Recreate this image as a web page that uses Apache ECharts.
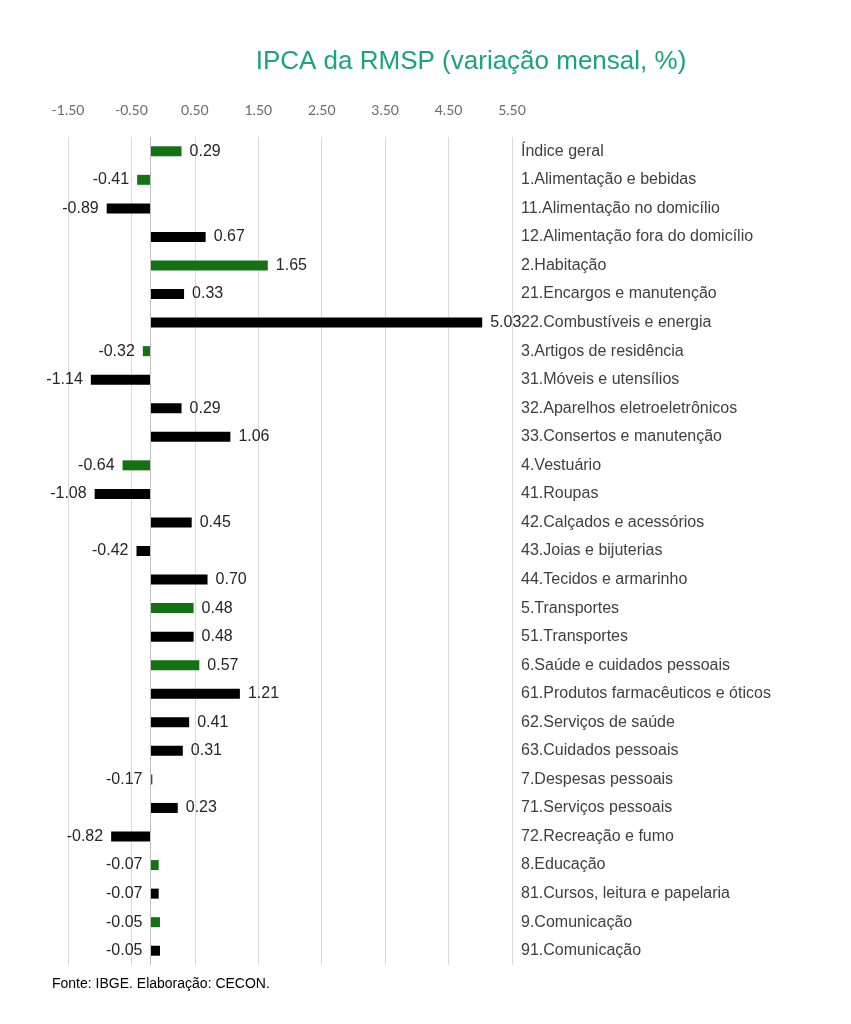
<!DOCTYPE html>
<html><head><meta charset="utf-8">
<script src="https://cdn.jsdelivr.net/npm/echarts@6/dist/echarts.min.js"></script>
<style>body{margin:0;background:#fff}#c{width:851px;height:1024px}</style>
</head><body><div id="c"></div>
<script>
var categories = ['Índice geral','1.Alimentação e bebidas','11.Alimentação no domicílio','12.Alimentação fora do domicílio','2.Habitação','21.Encargos e manutenção','22.Combustíveis e energia','3.Artigos de residência','31.Móveis e utensílios','32.Aparelhos eletroeletrônicos','33.Consertos e manutenção','4.Vestuário','41.Roupas','42.Calçados e acessórios','43.Joias e bijuterias','44.Tecidos e armarinho','5.Transportes','51.Transportes','6.Saúde e cuidados pessoais','61.Produtos farmacêuticos e óticos','62.Serviços de saúde','63.Cuidados pessoais','7.Despesas pessoais','71.Serviços pessoais','72.Recreação e fumo','8.Educação','81.Cursos, leitura e papelaria','9.Comunicação','91.Comunicação'];
var values = [0.29,-0.41,-0.89,0.67,1.65,0.33,5.03,-0.32,-1.14,0.29,1.06,-0.64,-1.08,0.45,-0.42,0.70,0.48,0.48,0.57,1.21,0.41,0.31,-0.17,0.23,-0.82,-0.07,-0.07,-0.05,-0.05];
var isGroup = [1,1,0,0,1,0,0,1,0,0,0,1,0,0,0,0,1,0,1,0,0,0,1,0,0,1,0,1,0];
var axisBase = -0.2;
var tickMin = -1.5, tickMax = 5.5, tickStep = 1;

var sans = 'Arial, "Liberation Sans", sans-serif';
var chart = echarts.init(document.getElementById('c'));
var base = [], bars = [];
for (var i = 0; i < values.length; i++) {
  base.push(axisBase);
  bars.push({
    value: values[i] - axisBase,
    itemStyle: {color: isGroup[i] ? '#137313' : '#000000'},
    label: {position: values[i] < 0 ? 'left' : 'right'}
  });
}
chart.setOption({
  animation: false,
  title: {
    text: 'IPCA da RMSP (variação mensal, %)',
    left: 466, top: 44, textAlign: 'center',
    textStyle: {color: '#1aa37e', fontSize: 26, fontWeight: 'normal', fontFamily: sans}
  },
  graphic: [{type: 'text', left: 52, top: 977,
    style: {text: 'Fonte: IBGE. Elaboração: CECON.', fill: '#000', fontSize: 14, fontFamily: sans}}],
  grid: {left: 68, width: 444, top: 137, height: 828},
  xAxis: {
    type: 'value', position: 'top', min: tickMin, max: tickMax, interval: tickStep,
    axisLine: {show: false}, axisTick: {show: false},
    axisLabel: {color: '#6b6b6b', fontSize: 14, fontFamily: 'Lato', margin: 20,
      formatter: function (v) { return v.toFixed(2); }},
    splitLine: {lineStyle: {color: '#d9d9d9', width: 1}}
  },
  yAxis: {
    type: 'category', inverse: true, position: 'right', data: categories,
    axisLine: {show: false}, axisTick: {show: false},
    axisLabel: {color: '#404040', fontSize: 16, fontFamily: sans, margin: 9}
  },
  series: [
    {type: 'bar', stack: 's', stackStrategy: 'all', data: base, barWidth: 10,
      itemStyle: {color: 'transparent'}, silent: true},
    {type: 'bar', stack: 's', stackStrategy: 'all', data: bars, barWidth: 10,
      label: {show: true, color: '#262626', fontSize: 16, fontFamily: sans, distance: 8,
        formatter: function (p) { return values[p.dataIndex].toFixed(2); }},
      markLine: {silent: true, symbol: 'none', label: {show: false},
        lineStyle: {color: '#bfbfbf', type: 'solid', width: 1},
        data: [{xAxis: axisBase}]}}
  ]
});
</script></body></html>
